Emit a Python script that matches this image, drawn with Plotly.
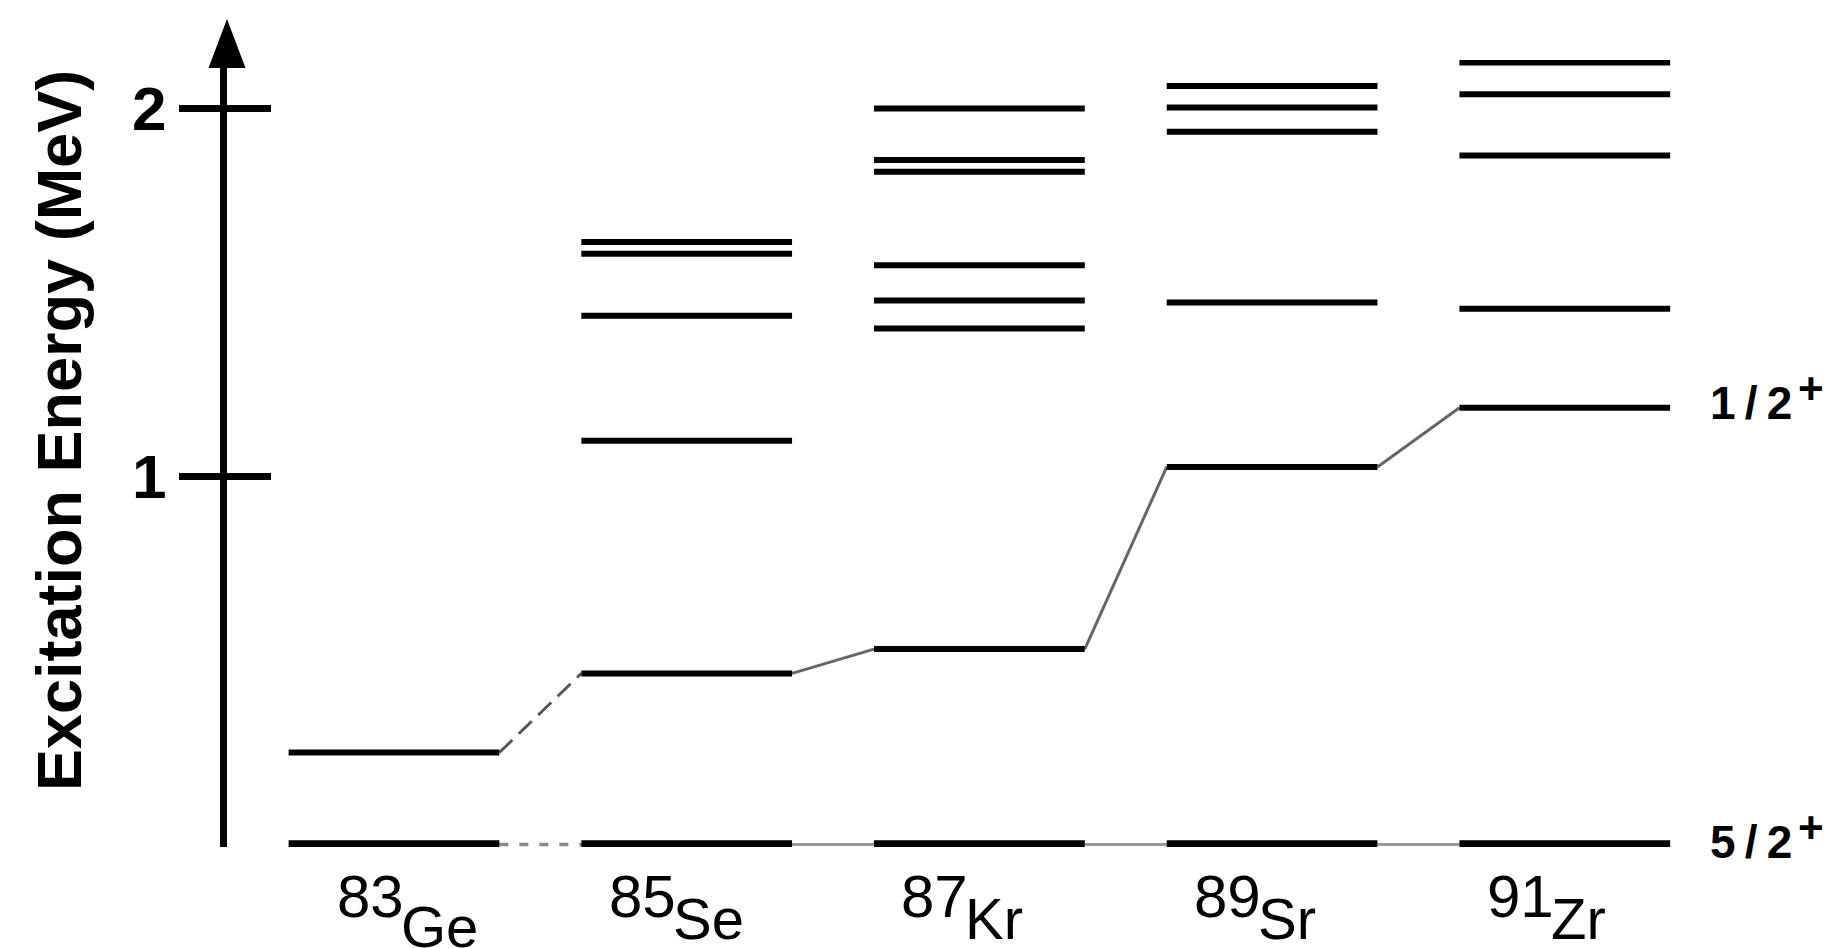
import plotly.graph_objects as go

# ---------------- data ----------------
mass_numbers = [83, 85, 87, 89, 91]
elements = ["Ge", "Se", "Kr", "Sr", "Zr"]
ground_state_mev = [0.0, 0.0, 0.0, 0.0, 0.0]          # 5/2+ ground states
half_plus_mev = [0.250, 0.465, 0.531, 1.026, 1.187]   # 1/2+ states
ge_other_mev = []
se_other_mev = [1.097, 1.437, 1.605, 1.637]
kr_other_mev = [1.402, 1.478, 1.574, 1.828, 1.860, 2.000]
sr_other_mev = [1.473, 1.937, 2.003, 2.061]
zr_other_mev = [1.456, 1.872, 2.039, 2.125]
other_levels = [ge_other_mev, se_other_mev, kr_other_mev, sr_other_mev, zr_other_mev]
y_tick_values = [1, 2]
y_tick_labels = ["1", "2"]
ground_spin = "5\u2009/\u20092"
half_spin = "1\u2009/\u20092"
parity = "+"
y_title = "Excitation Energy (MeV)"

# ---------------- layout constants ----------------
W, H = 1828, 948
M_L, M_R, M_T, M_B = 227, 128, 60, 101
PX_PER_COL = 292.7
PX_PER_MEV = 368.0
FIRST_COL_PX = 394.0
ZERO_PX = 844.5
HALF_W = 0.36

plot_w = W - M_L - M_R
plot_h = H - M_T - M_B
x_lo = (M_L - FIRST_COL_PX) / PX_PER_COL
x_hi = x_lo + plot_w / PX_PER_COL
y_lo = (ZERO_PX - (H - M_B)) / PX_PER_MEV
y_hi = y_lo + plot_h / PX_PER_MEV

cols = list(range(len(elements)))
FONT = "Liberation Sans, Arial, sans-serif"


def level_segments(col_list, energy_list):
    xs, ys = [], []
    for c, e in zip(col_list, energy_list):
        xs += [c - HALF_W, c + HALF_W, None]
        ys += [e, e, None]
    return xs, ys


def connector_segments(energy_list, pairs):
    xs, ys = [], []
    for i in pairs:
        xs += [cols[i] + HALF_W, cols[i + 1] - HALF_W, None]
        ys += [energy_list[i], energy_list[i + 1], None]
    return xs, ys


fig = go.Figure()

# connectors (drawn first, under the levels)
cx, cy = connector_segments(half_plus_mev, [0])
fig.add_trace(go.Scatter(x=cx, y=cy, mode="lines", cliponaxis=False,
                         line=dict(color="#555555", width=3, dash="18px,9px"),
                         hoverinfo="skip", showlegend=False))
cx, cy = connector_segments(half_plus_mev, [1, 2, 3])
fig.add_trace(go.Scatter(x=cx, y=cy, mode="lines", cliponaxis=False,
                         line=dict(color="#666666", width=3),
                         hoverinfo="skip", showlegend=False))
cx, cy = connector_segments(ground_state_mev, [0])
fig.add_trace(go.Scatter(x=cx, y=cy, mode="lines", cliponaxis=False,
                         line=dict(color="#888888", width=3.5, dash="9px,11px"),
                         hoverinfo="skip", showlegend=False))
cx, cy = connector_segments(ground_state_mev, [1, 2, 3])
fig.add_trace(go.Scatter(x=cx, y=cy, mode="lines", cliponaxis=False,
                         line=dict(color="#999999", width=3),
                         hoverinfo="skip", showlegend=False))

# excited levels
ex_cols, ex_e = [], []
for c, lv in zip(cols, other_levels):
    ex_cols += [c] * len(lv)
    ex_e += lv
ex_cols += cols
ex_e += half_plus_mev
lx, ly = level_segments(ex_cols, ex_e)
fig.add_trace(go.Scatter(x=lx, y=ly, mode="lines", cliponaxis=False,
                         line=dict(color="black", width=6),
                         hoverinfo="skip", showlegend=False))

# ground levels
gx, gy = level_segments(cols, ground_state_mev)
fig.add_trace(go.Scatter(x=gx, y=gy, mode="lines", cliponaxis=False,
                         line=dict(color="black", width=8.5),
                         hoverinfo="skip", showlegend=False))

# invisible trace so the second (inside-tick) y axis is drawn
fig.add_trace(go.Scatter(x=[x_lo], y=[1], yaxis="y2", mode="markers",
                         marker=dict(opacity=0), hoverinfo="skip", showlegend=False))

annotations = []
# nuclide labels (mass number raised, element symbol lowered)
for c, a, el in zip(cols, mass_numbers, elements):
    nudge_x = 24 if el == "Ge" else 3
    nudge_y = 8 if el == "Ge" else 0
    annotations.append(dict(x=c, y=0, xref="x", yref="paper", text=str(a),
                            xanchor="right", yanchor="top", showarrow=False,
                            xshift=-12 + nudge_x, yshift=-14,
                            font=dict(family=FONT, size=60, color="black")))
    annotations.append(dict(x=c, y=0, xref="x", yref="paper", text=el,
                            xanchor="left", yanchor="top", showarrow=False,
                            xshift=-19 + nudge_x, yshift=-37 - nudge_y,
                            font=dict(family=FONT, size=58, color="black")))

# spin / parity labels at the right of the last column
for spin, energy, dy in [(half_spin, half_plus_mev[-1], 5), (ground_spin, ground_state_mev[-1], 3)]:
    annotations.append(dict(x=cols[-1] + HALF_W, y=energy, xref="x", yref="y",
                            text=spin, xanchor="left", yanchor="middle",
                            showarrow=False, xshift=38, yshift=dy,
                            font=dict(family=FONT, size=46, color="black", weight="bold")))
    annotations.append(dict(x=cols[-1] + HALF_W, y=energy, xref="x", yref="y",
                            text=parity, xanchor="left", yanchor="middle",
                            showarrow=False, xshift=126, yshift=dy + 14,
                            font=dict(family=FONT, size=44, color="black", weight="bold")))

# y title
annotations.append(dict(x=0, y=(ZERO_PX - 431) / PX_PER_MEV, xref="paper", yref="y",
                        text=y_title, textangle=-90, xanchor="center", yanchor="middle",
                        showarrow=False, xshift=-168,
                        font=dict(family=FONT, size=63, color="black", weight="bold")))

# arrow head on top of the energy axis
shapes = [dict(type="path", xref="paper", yref="paper", xsizemode="pixel", ysizemode="pixel",
               xanchor=0, yanchor=1, path="M-18.5,-8 L18.5,-8 L0,41 Z",
               fillcolor="black", line=dict(width=0), layer="above")]

fig.update_layout(
    width=W, height=H,
    margin=dict(l=M_L, r=M_R, t=M_T, b=M_B),
    paper_bgcolor="white", plot_bgcolor="white",
    showlegend=False,
    xaxis=dict(range=[x_lo, x_hi], visible=False, fixedrange=True),
    yaxis=dict(range=[y_lo, y_hi], showgrid=False, zeroline=False,
               showline=True, linecolor="black", linewidth=7,
               ticks="outside", ticklen=41, tickwidth=7, tickcolor="black",
               tickvals=y_tick_values, ticktext=y_tick_labels,
               ticklabelstandoff=0,
               tickfont=dict(family=FONT, size=62, color="black", weight="bold"),
               fixedrange=True),
    yaxis2=dict(range=[y_lo, y_hi], overlaying="y", side="left", showgrid=False,
                zeroline=False, showline=False, ticks="inside", ticklen=44,
                tickwidth=7, tickcolor="black", tickvals=y_tick_values,
                showticklabels=False, fixedrange=True),
    annotations=annotations,
    shapes=shapes,
)

fig.write_html("out.html")
